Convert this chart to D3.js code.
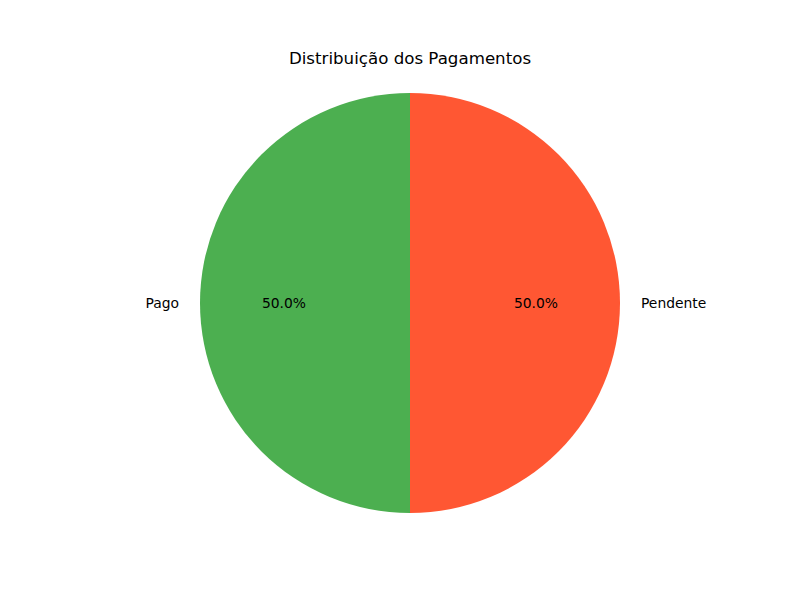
<!DOCTYPE html>
<html lang="pt">
<head>
<meta charset="UTF-8">
<title>Distribuição dos Pagamentos</title>
<script src="https://cdn.jsdelivr.net/npm/d3@7"></script>
<style>
  body { margin: 0; background: #fff; }
  text { font-family: "DejaVu Sans", sans-serif; }
</style>
</head>
<body>
<svg id="mainsvg" width="800" height="600"></svg>
<script>
const labels = ["Pago", "Pendente"];
const values = [1, 1];
const colors = ["#4CAF50", "#FF5733"];

const svg = d3.select('#mainsvg');
const cx = 410, cy = 303, radius = 210;

svg.append('text')
  .attr('x', 410).attr('y', 58)
  .attr('text-anchor', 'middle')
  .attr('dominant-baseline', 'central')
  .attr('font-size', '16.67px')
  .text('Distribuição dos Pagamentos');

const g = svg.append('g').attr('transform', `translate(${cx}, ${cy})`);

const data = labels.map((l, i) => ({ label: l, value: values[i], color: colors[i] }));
const total = d3.sum(values);

// counterclockwise from 12 o'clock, like matplotlib startangle=90
const pie = d3.pie().value(d => d.value).sort(null)
  .startAngle(0).endAngle(-2 * Math.PI);
const arcs = pie(data);
const arc = d3.arc().innerRadius(0).outerRadius(radius);

g.selectAll('.slice').data(arcs).join('path')
  .attr('class', 'slice')
  .attr('d', arc)
  .attr('fill', d => d.data.color);

const mid = d => (d.startAngle + d.endAngle) / 2;

g.selectAll('.lbl').data(arcs).join('text')
  .attr('class', 'lbl')
  .attr('x', d => 1.1 * radius * Math.sin(mid(d)))
  .attr('y', d => -1.1 * radius * Math.cos(mid(d)))
  .attr('text-anchor', d => Math.sin(mid(d)) < 0 ? 'end' : 'start')
  .attr('dominant-baseline', 'central')
  .attr('font-size', '13.89px')
  .text(d => d.data.label);

g.selectAll('.pct').data(arcs).join('text')
  .attr('class', 'pct')
  .attr('x', d => 0.6 * radius * Math.sin(mid(d)))
  .attr('y', d => -0.6 * radius * Math.cos(mid(d)))
  .attr('text-anchor', 'middle')
  .attr('dominant-baseline', 'central')
  .attr('font-size', '13.89px')
  .text(d => (d.data.value / total * 100).toFixed(1) + '%');
</script>
</body>
</html>
